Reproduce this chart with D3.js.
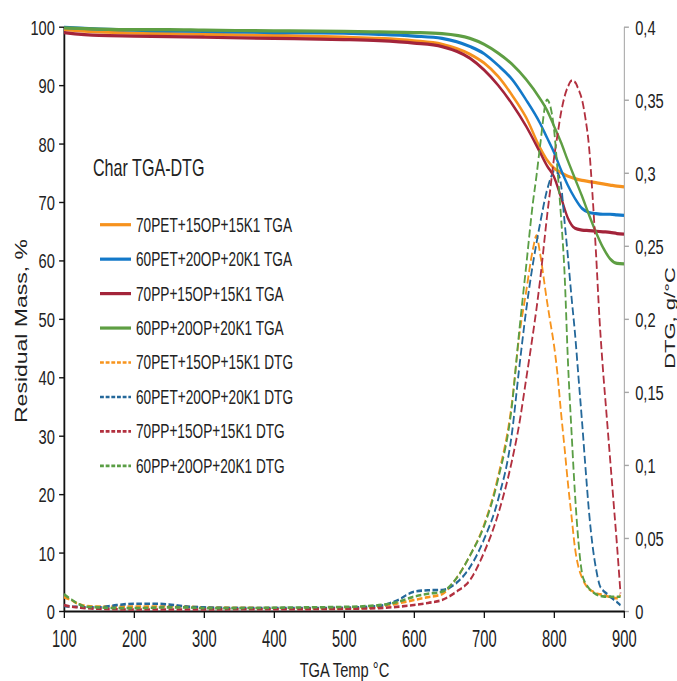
<!DOCTYPE html>
<html><head><meta charset="utf-8">
<script src="https://cdn.jsdelivr.net/npm/d3@7"></script>
<style>html,body{margin:0;padding:0;background:#fff;overflow:hidden}</style>
</head><body>
<script>
// ---------- DATA ----------
const tempTicks = [100,200,300,400,500,600,700,800,900];
const massTicks = [0,10,20,30,40,50,60,70,80,90,100];
const dtgTicks  = [0,0.05,0.1,0.15,0.2,0.25,0.3,0.35,0.4];

const tgaTemps = [100,150,200,250,300,400,500,550,600,640,680,700,720,740,760,780,790,800,810,820,830,840,850,860,870,880,890,900];
const tga70PET = [99.5,99.1,98.9,98.8,98.7,98.5,98.2,98.0,97.6,97.0,95.3,93.8,91.5,88.3,84.5,79.3,77.2,75.8,75.0,74.4,74.0,73.7,73.5,73.3,73.1,72.9,72.7,72.6];
const tga60PET = [99.9,99.6,99.4,99.3,99.2,99.0,98.9,98.7,98.4,98.0,96.6,95.4,93.4,91.0,87.5,83.5,81.0,78.5,75.5,72.8,70.6,68.9,68.2,68.0,67.9,67.9,67.8,67.7];
const tga70PP  = [99.0,98.5,98.4,98.3,98.2,98.0,97.8,97.6,97.2,96.6,94.6,92.6,90.0,86.8,83.0,78.5,76.2,74.3,70.8,67.2,65.5,65.2,65.1,65.0,64.9,64.8,64.6,64.5];
const tga60PP  = [99.8,99.6,99.5,99.5,99.4,99.3,99.2,99.1,99.0,98.8,98.0,97.0,95.5,93.6,91.0,87.7,85.7,83.0,80.2,77.0,74.0,71.0,67.8,64.8,62.2,60.3,59.5,59.4];

const dtgTemps = [100,110,120,130,150,175,200,225,250,275,300,350,400,450,500,550,575,600,620,640,660,680,700,720,740,750,760,770,775,780,790,795,800,805,810,815,820,825,830,835,840,845,850,855,860,865,870,875,880,885,890,895];
const dtg70PET = [.0095,.0075,.005,.0035,.003,.003,.003,.003,.0032,.003,.0025,.0022,.002,.0018,.0015,.003,.005,.0075,.0095,.0115,.022,.038,.059,.092,.143,.187,.218,.248,.257,.245,.212,.197,.182,.162,.136,.112,.087,.065,.043,.03,.023,.018,.015,.0135,.012,.0115,.011,.0103,.0095,.009,.0088,.011];
const dtg60PET = [.0035,.003,.0028,.0025,.0025,.004,.005,.005,.0045,.003,.0025,.002,.002,.002,.0022,.0035,.007,.0132,.0142,.0144,.019,.03,.049,.076,.122,.165,.205,.238,.252,.265,.288,.296,.301,.3,.292,.267,.242,.215,.19,.16,.13,.098,.068,.045,.029,.018,.014,.012,.0098,.008,.006,.004];
const dtg70PP  = [.004,.003,.0025,.002,.0015,.0012,.001,.001,.001,.001,.001,.0012,.0012,.0013,.0015,.002,.0028,.0041,.0055,.0075,.013,.0212,.04,.066,.103,.127,.158,.19,.207,.226,.27,.29,.31,.326,.341,.352,.359,.363,.362,.357,.35,.337,.318,.285,.245,.2,.165,.135,.105,.075,.045,.012];
const dtg60PP  = [.0115,.008,.005,.003,.0025,.002,.002,.0022,.0025,.0025,.002,.002,.0022,.0025,.0028,.004,.006,.0098,.0118,.0132,.022,.038,.058,.09,.141,.19,.235,.28,.298,.318,.35,.345,.33,.302,.27,.232,.17,.123,.08,.047,.026,.019,.0155,.013,.0115,.0105,.01,.0098,.0098,.0098,.0098,.0098];

const legendLabels = ["70PET+15OP+15K1 TGA","60PET+20OP+20K1 TGA","70PP+15OP+15K1 TGA","60PP+20OP+20K1 TGA",
                      "70PET+15OP+15K1 DTG","60PET+20OP+20K1 DTG","70PP+15OP+15K1 DTG","60PP+20OP+20K1 DTG"];
const chartTitle = "Char TGA-DTG";

// ---------- STYLE / LAYOUT ----------
const W = 677, H = 681, SX = 0.7, VW = W / SX;
const FONT = "Arial, 'Liberation Sans', Helvetica, sans-serif";
const tgaColors = ["#F6921E","#1379C9","#A3243A","#5E9E43"];
const dtgColors = ["#F7941D","#24689A","#B2303F","#5A9E45"];

const svg = d3.select("body").append("svg")
  .attr("width", W).attr("height", H)
  .attr("viewBox", `0 0 ${VW} ${H}`)
  .attr("preserveAspectRatio", "none")
  .style("font-family", FONT);

const x  = d3.scaleLinear().domain([100, 900]).range([64 / SX, 624 / SX]);
const yL = d3.scaleLinear().domain([0, 100]).range([611, 26.7]);
const yR = d3.scaleLinear().domain([0, 0.4]).range([611, 26.7]);

// axes
const gL = svg.append("g").attr("transform", `translate(${x(100)},0)`)
  .call(d3.axisLeft(yL).tickValues(massTicks).tickSize(7).tickPadding(6).tickSizeOuter(0));
gL.select(".domain").attr("stroke", "#111").attr("stroke-width", 2.6);
gL.selectAll(".tick line").attr("stroke", "#111").attr("stroke-width", 1.4);
gL.selectAll(".tick text").attr("font-size", 21).attr("font-family", FONT).attr("fill", "#222").attr("dy", "0.36em");
gL.attr("font-family", null).attr("font-size", null);

const gR = svg.append("g").attr("transform", `translate(${x(900)},0)`)
  .call(d3.axisRight(yR).tickValues(dtgTicks).tickSize(7).tickPadding(9).tickSizeOuter(0)
    .tickFormat(d => d === 0 ? "0" : String(d).replace(".", ",")));
gR.select(".domain").attr("stroke", "#A6A6A6").attr("stroke-width", 1.5);
gR.selectAll(".tick line").attr("stroke", "#A6A6A6").attr("stroke-width", 1.4);
gR.selectAll(".tick text").attr("font-size", 21).attr("font-family", FONT).attr("fill", "#222").attr("dy", "0.36em");
gR.attr("font-family", null).attr("font-size", null);

const gB = svg.append("g").attr("transform", `translate(0,611)`)
  .call(d3.axisBottom(x).tickValues(tempTicks).tickSize(7).tickSizeOuter(0));
gB.select(".domain").attr("stroke", "#111").attr("stroke-width", 1.8);
gB.selectAll(".tick line").attr("stroke", "#111").attr("stroke-width", 1.9);
gB.selectAll(".tick text").attr("font-size", 21).attr("font-family", FONT).attr("fill", "#222")
  .attr("y", 0).attr("dy", 0).attr("transform", "translate(0,35.5) scale(1,1.15)");
gB.attr("font-family", null).attr("font-size", null);

// axis titles
svg.append("text").attr("transform", `translate(${26.8 / SX},331) rotate(-90)`)
  .attr("text-anchor", "middle").attr("font-size", 23).attr("fill", "#222").text("Residual Mass, %");
svg.append("text").attr("transform", `translate(${674.5 / SX},318) rotate(-90)`)
  .attr("text-anchor", "middle").attr("font-size", 22).attr("fill", "#222").text("DTG, g/°C");
svg.append("text").attr("x", 344.5 / SX).attr("y", 677)
  .attr("text-anchor", "middle").attr("font-size", 21).attr("fill", "#222").text("TGA Temp °C");

// data lines
const tgaSeries = [tga70PET, tga60PET, tga70PP, tga60PP];
const dtgSeries = [dtg70PET, dtg60PET, dtg70PP, dtg60PP];
const lineL = d3.line().x(d => x(d[0])).y(d => yL(d[1])).curve(d3.curveMonotoneX);
const lineR = d3.line().x(d => x(d[0])).y(d => yR(d[1])).curve(d3.curveMonotoneX);

tgaSeries.forEach((vals, i) => {
  const pts = tgaTemps.map((t, k) => [t, vals[k]]).filter(p => p[1] != null);
  svg.append("path").attr("d", lineL(pts)).attr("fill", "none")
    .attr("stroke", tgaColors[i]).attr("stroke-width", 3.2).attr("stroke-linejoin", "round");
});
dtgSeries.forEach((vals, i) => {
  const pts = dtgTemps.map((t, k) => [t, vals[k]]).filter(p => p[1] != null);
  svg.append("path").attr("d", lineR(pts)).attr("fill", "none")
    .attr("stroke", dtgColors[i]).attr("stroke-width", 2.6).attr("stroke-dasharray", "8,3.5");
});

// title + legend
svg.append("text").attr("x", 93 / SX).attr("y", 176).attr("font-size", 23).attr("fill", "#222").text(chartTitle);
const leg = svg.append("g");
legendLabels.forEach((lab, i) => {
  const base = 231.7 + i * 34.45;
  const isDtg = i >= 4;
  leg.append("line").attr("x1", 100 / SX).attr("x2", 131 / SX).attr("y1", base - 7).attr("y2", base - 7)
    .attr("stroke", isDtg ? dtgColors[i - 4] : tgaColors[i])
    .attr("stroke-width", isDtg ? 2.6 : 3.2)
    .attr("stroke-dasharray", isDtg ? "5.5,2.6" : null);
  leg.append("text").attr("x", 136 / SX).attr("y", base).attr("font-size", 19.5).attr("fill", "#222").text(lab);
});
</script>
</body></html>
